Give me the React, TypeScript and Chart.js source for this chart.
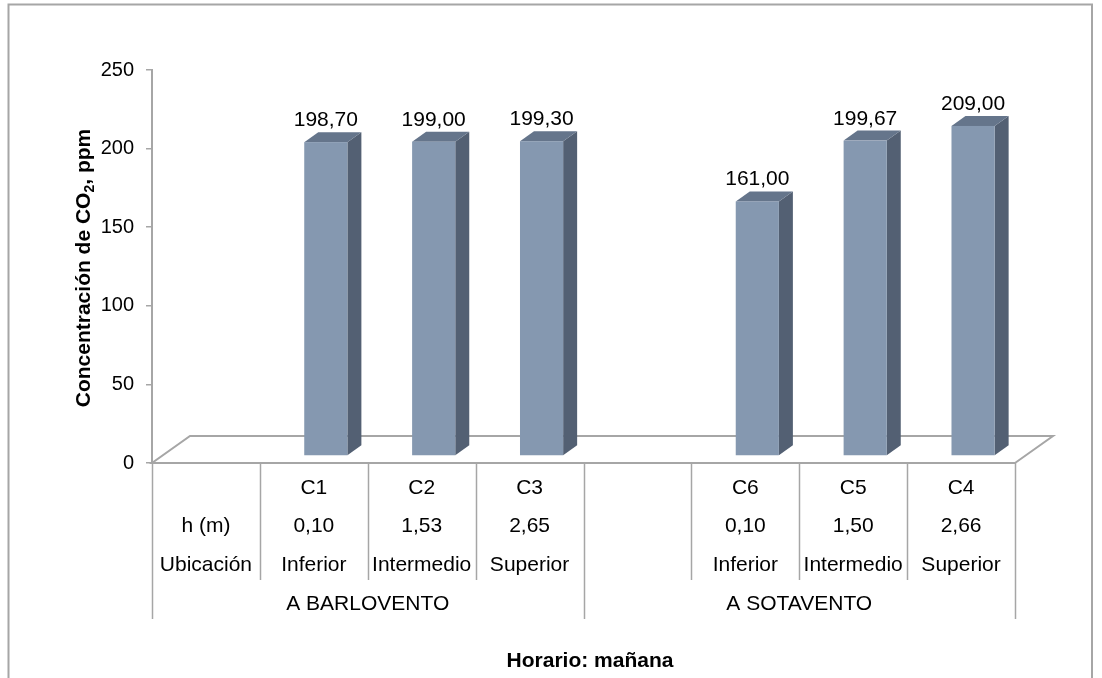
import React, { useEffect, useRef } from "react";
import { Chart, registerables } from "chart.js";

Chart.register(...registerables);

// ---- Data ----
const categories = ["", "C1", "C2", "C3", "", "C6", "C5", "C4"];
const heightLabels = ["h (m)", "0,10", "1,53", "2,65", "", "0,10", "1,50", "2,66"];
const locationLabels = ["Ubicación", "Inferior", "Intermedio", "Superior", "", "Inferior", "Intermedio", "Superior"];
const groupLabels = ["A BARLOVENTO", "A SOTAVENTO"];
const groupSpans = [4, 4];
const co2Values: (number | null)[] = [null, 198.7, 199.0, 199.3, null, 161.0, 199.67, 209.0];
const yMin = 0;
const yMax = 250;
const yStep = 50;
const yTitleMain = "Concentración de CO";
const yTitleSub = "2";
const yTitleEnd = ", ppm";
const xTitle = "Horario: mañana";

// ---- Styles ----
const FONT = "'Liberation Sans', Arial, sans-serif";
const GRAY = "#a6a6a6";
const FRONT = "#8598b0";
const SIDE = "#536073";
const TOP = "#65758b";

const fmt = (v: number) => v.toFixed(2).replace(".", ",");

const scenePlugin = {
  id: "scene3d",
  beforeDatasetsDraw(chart: any) {
    const ctx = chart.ctx;
    const { left, right } = chart.chartArea;
    const y0 = chart.scales.y.getPixelForValue(0);
    const dx = 38, dy = -27;
    ctx.save();
    ctx.strokeStyle = GRAY;
    ctx.lineWidth = 2;
    ctx.beginPath();
    ctx.moveTo(right, y0);
    ctx.lineTo(left, y0);
    ctx.lineTo(left + dx, y0 + dy);
    ctx.lineTo(right + dx, y0 + dy);
    ctx.lineTo(right, y0);
    ctx.stroke();
    ctx.restore();
  },
  afterDatasetsDraw(chart: any) {
    const ctx = chart.ctx;
    const meta = chart.getDatasetMeta(0);
    const offX = 12, offTop = -8.5, offBot = -7;
    const depX = 14, depY = -10;
    ctx.save();
    meta.data.forEach((el: any, i: number) => {
      const v = co2Values[i];
      if (v == null) return;
      const w = el.width;
      const x0 = el.x - w / 2 + offX;
      const x1 = el.x + w / 2 + offX;
      const top = el.y + offTop;
      const bot = el.base + offBot;
      // side face
      ctx.fillStyle = SIDE;
      ctx.beginPath();
      ctx.moveTo(x1, top);
      ctx.lineTo(x1 + depX, top + depY);
      ctx.lineTo(x1 + depX, bot + depY);
      ctx.lineTo(x1, bot);
      ctx.closePath();
      ctx.fill();
      // top face
      ctx.fillStyle = TOP;
      ctx.beginPath();
      ctx.moveTo(x0, top);
      ctx.lineTo(x0 + depX, top + depY);
      ctx.lineTo(x1 + depX, top + depY);
      ctx.lineTo(x1, top);
      ctx.closePath();
      ctx.fill();
      // front face
      ctx.fillStyle = FRONT;
      ctx.fillRect(x0, top, x1 - x0, bot - top);
      // data label
      ctx.fillStyle = "#000";
      ctx.font = `21px ${FONT}`;
      ctx.textAlign = "center";
      ctx.textBaseline = "alphabetic";
      ctx.fillText(fmt(v), (x0 + x1) / 2, top - 16);
    });
    ctx.restore();
  },
  afterDraw(chart: any) {
    const ctx = chart.ctx;
    const { left, right } = chart.chartArea;
    const y0 = chart.scales.y.getPixelForValue(0);
    const n = categories.length;
    const cw = (right - left) / n;
    const rowH = 39;
    ctx.save();
    // table lines
    ctx.strokeStyle = GRAY;
    ctx.lineWidth = 1.5;
    const groupEdges = [0];
    groupSpans.forEach((s) => groupEdges.push(groupEdges[groupEdges.length - 1] + s));
    for (let k = 0; k <= n; k++) {
      const x = Math.round(left + k * cw) + 0.5;
      const isGroup = groupEdges.includes(k);
      ctx.beginPath();
      ctx.moveTo(x, y0);
      ctx.lineTo(x, y0 + (isGroup ? rowH * 4 : rowH * 3));
      ctx.stroke();
    }
    // table text
    ctx.fillStyle = "#000";
    ctx.font = `21px ${FONT}`;
    ctx.textAlign = "center";
    ctx.textBaseline = "middle";
    const rows = [categories, heightLabels, locationLabels];
    rows.forEach((row, r) => {
      row.forEach((t, i) => {
        if (!t) return;
        const cx = chart.scales.x.getPixelForValue(i);
        ctx.fillText(t, cx, y0 + 25 + r * 38.5);
      });
    });
    groupLabels.forEach((g, gi) => {
      const a = left + groupEdges[gi] * cw;
      const b = left + groupEdges[gi + 1] * cw;
      ctx.fillText(g, (a + b) / 2, y0 + 141);
    });
    // x title
    ctx.font = `bold 21px ${FONT}`;
    ctx.fillText(xTitle, 590, 661);
    // y title with subscript
    ctx.translate(82, 268);
    ctx.rotate(-Math.PI / 2);
    ctx.textAlign = "left";
    ctx.textBaseline = "alphabetic";
    const fMain = `bold 21px ${FONT}`;
    const fSub = `bold 14px ${FONT}`;
    ctx.font = fMain;
    const w1 = ctx.measureText(yTitleMain).width;
    const w3 = ctx.measureText(yTitleEnd).width;
    ctx.font = fSub;
    const w2 = ctx.measureText(yTitleSub).width;
    let x = -(w1 + w2 + w3) / 2;
    ctx.font = fMain;
    ctx.fillText(yTitleMain, x, 7.5);
    x += w1;
    ctx.font = fSub;
    ctx.fillText(yTitleSub, x, 12);
    x += w2;
    ctx.font = fMain;
    ctx.fillText(yTitleEnd, x, 7.5);
    ctx.restore();
    // outer border
    ctx.save();
    ctx.strokeStyle = GRAY;
    ctx.lineWidth = 2;
    ctx.strokeRect(8.5, 4.5, 1083.5, 700);
    ctx.restore();
  },
};

export default function App() {
  const ref = useRef<HTMLCanvasElement | null>(null);
  useEffect(() => {
    if (!ref.current) return;
    const chart = new Chart(ref.current, {
      type: "bar",
      data: {
        labels: categories,
        datasets: [
          {
            data: co2Values as any,
            backgroundColor: "rgba(0,0,0,0)",
            barPercentage: 0.4,
            categoryPercentage: 1,
          },
        ],
      },
      options: {
        responsive: false,
        animation: false,
        devicePixelRatio: 1,
        layout: { padding: { left: 0, right: 87, top: 70, bottom: 215 } },
        plugins: { legend: { display: false }, tooltip: { enabled: false } },
        scales: {
          x: { display: false, offset: true },
          y: {
            min: yMin,
            max: yMax,
            ticks: {
              stepSize: yStep,
              color: "#000",
              font: { family: FONT, size: 20 },
              padding: 12,
            },
            grid: { drawOnChartArea: false, drawTicks: true, tickLength: 6, color: GRAY, lineWidth: 1.5 },
            border: { display: true, color: GRAY, width: 2 },
            afterFit: (scale: any) => {
              scale.width = 152;
            },
          },
        },
      },
      plugins: [scenePlugin],
    });
    return () => chart.destroy();
  }, []);
  return (
    <div style={{ position: "absolute", left: 0, top: 0, width: 1102, height: 678, background: "#fff" }}>
      <canvas ref={ref} width={1102} height={678} style={{ display: "block" }} />
    </div>
  );
}
